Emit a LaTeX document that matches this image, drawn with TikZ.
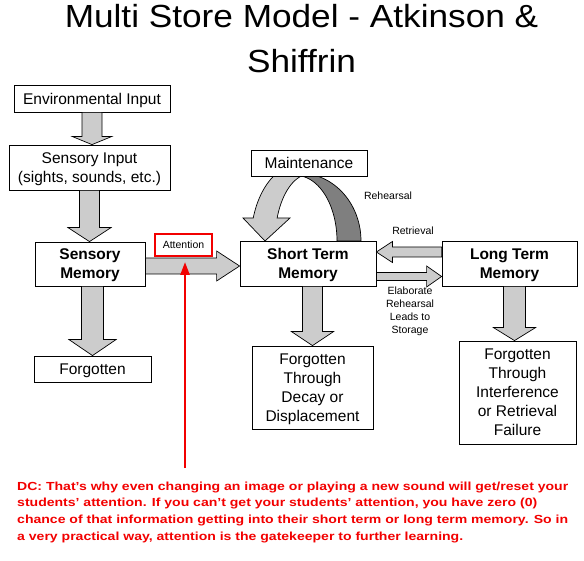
\documentclass[tikz,border=0pt]{standalone}
\usepackage{fontspec}
\setmainfont{Liberation Sans}
\newfontfamily\titlefont[FakeStretch=1.1]{Liberation Sans}
\newfontfamily\notefont[FakeStretch=1.2]{Liberation Sans}
\usetikzlibrary{calc,arrows.meta}
\definecolor{arrowgrey}{HTML}{CCCCCC}
\definecolor{bandgrey}{HTML}{7F7F7F}
\definecolor{notered}{HTML}{F20000}
\newcommand\bodysz{\fontsize{15.5}{19}\selectfont}
\newcommand\smallsz{\fontsize{10.5}{13}\selectfont}
\newcommand\fatarrow[5]{%
  \path (#1) coordinate (fa-s);
  \path (#2) coordinate (fa-e);
  \path ($(fa-e)!#5!(fa-s)$) coordinate (fa-h);
  \filldraw[fat] ($(fa-s)!#3!90:(fa-e)$) -- ($(fa-h)!#3!-90:(fa-s)$) -- ($(fa-h)!#4!-90:(fa-s)$) -- (fa-e) -- ($(fa-h)!#4!90:(fa-s)$) -- ($(fa-h)!#3!90:(fa-s)$) -- ($(fa-s)!#3!-90:(fa-e)$) -- cycle;}
\begin{document}
\begin{tikzpicture}[x=1pt,y=-1pt,
  box/.style={draw=black, line width=0.8pt, fill=white, align=center, inner sep=0pt, text depth=-2pt, font=\bodysz},
  boldbox/.style={box, font=\bodysz\bfseries},
  fat/.style={fill=arrowgrey, draw=black, line width=0.7pt, line join=miter},
  band/.style={draw=black, line width=0.7pt, line join=miter},
  lbl/.style={inner sep=0pt, font=\smallsz, align=center},
  attbox/.style={draw=notered, line width=2pt, fill=white, inner sep=0pt, font=\smallsz},
  attarrow/.style={draw=notered, line width=2.5pt, -{Triangle[length=13pt,width=9pt]}}]
\useasboundingbox (0,0) rectangle (584,561);
% title
\node[inner sep=0pt, anchor=north, align=center, font=\titlefont\fontsize{32}{45}\selectfont] (title) at (301.5,3.7) {Multi Store Model - Atkinson \&\\Shiffrin};
% maintenance rehearsal loop
\filldraw[band, fill=bandgrey] plot[domain=0:90, samples=40] ({300+61*cos(\x)},{241-67.7*sin(\x)}) -- plot[domain=90:0, samples=40] ({296+41*cos(\x)},{241-65.5*sin(\x)}) -- cycle;
\filldraw[band, fill=arrowgrey] plot[domain=90:162.6, samples=40] ({300+49*cos(\x)},{241-77*sin(\x)}) -- (243,218) -- (265,241) -- (290,218) -- plot[domain=159.9:90, samples=40] ({310+35*cos(\x)},{241-67*sin(\x)}) -- cycle;
% boxes
\node[box, minimum width=156pt, minimum height=27pt] (env) at (92,98.5) {Environmental Input};
\node[box, minimum width=161pt, minimum height=45pt] (sin) at (89.5,167.5) {Sensory Input\\(sights, sounds, etc.)};
\node[boldbox, minimum width=110pt, minimum height=44pt] (smem) at (90,264) {Sensory\\Memory};
\node[box, minimum width=117pt, minimum height=26pt] (forg) at (92.5,369) {Forgotten};
\node[box, minimum width=116pt, minimum height=26pt] (maint) at (309,163) {Maintenance};
\node[boldbox, minimum width=136pt, minimum height=45pt] (stm) at (308,263.5) {Short Term\\Memory};
\node[boldbox, minimum width=135pt, minimum height=45pt] (ltm) at (509.5,263.5) {Long Term\\Memory};
\node[box, minimum width=121pt, minimum height=83pt] (decay) at (312.5,387.5) {Forgotten\\Through\\Decay or\\Displacement};
\node[box, minimum width=117pt, minimum height=103pt] (fint) at (517.5,392.5) {Forgotten\\Through\\Interference\\or Retrieval\\Failure};
\node[attbox, minimum width=57pt, minimum height=22pt] (att) at (183.5,245) {Attention};
% labels
\node[lbl] (reh) at (388,196) {Rehearsal};
\node[lbl] (ret) at (413,231) {Retrieval};
\node[lbl] (elab) at (410,311.5) {Elaborate\\Rehearsal\\Leads to\\Storage};
% fat arrows
\fatarrow{env.south}{env.south |- sin.north}{10pt}{19.5pt}{8pt}
\fatarrow{sin.south}{sin.south |- smem.north}{10pt}{21.5pt}{14pt}
\fatarrow{forg.north |- smem.south}{forg.north}{11pt}{23.5pt}{16pt}
\fatarrow{$(smem.east)+(0,2)$}{fa-s -| stm.west}{8pt}{15pt}{23pt}
\fatarrow{decay.north |- stm.south}{decay.north}{10pt}{21pt}{14pt}
\fatarrow{$(fint.north |- ltm.south)+(-3,0)$}{$(fint.north)+(-3,0)$}{11pt}{21pt}{13pt}
\fatarrow{$(ltm.west)+(0,-11.5)$}{fa-s -| stm.east}{5pt}{10.5pt}{16pt}
\fatarrow{$(stm.east)+(0,13)$}{fa-s -| ltm.west}{4pt}{10.5pt}{15pt}
% red note and arrow
\coordinate (dcend) at (185,468);
\draw[attarrow, shorten >=5pt] (dcend) -- (dcend |- att.south);
\node[inner sep=0pt, anchor=north west, align=left, text=notered, font=\notefont\bfseries\fontsize{11.7}{16.7}\selectfont] (dc) at (17,481.5) {DC: That’s why even changing an image or playing a new sound will get/reset your\\students’ attention. If you can’t get your students’ attention, you have zero (0)\\chance of that information getting into their short term or long term memory. So in\\a very practical way, attention is the gatekeeper to further learning.};
\end{tikzpicture}
\end{document}
